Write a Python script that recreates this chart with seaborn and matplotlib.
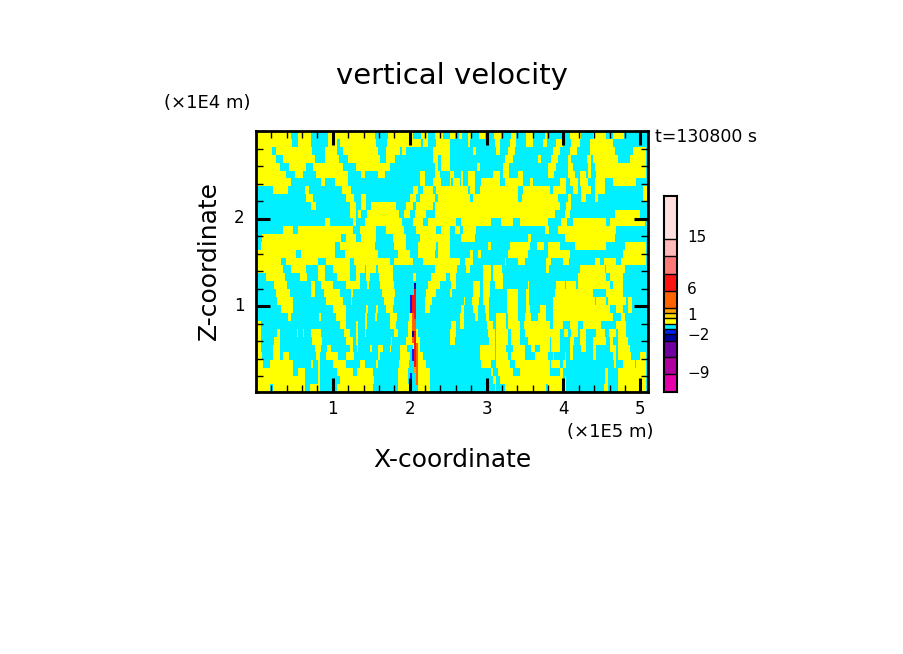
import numpy as np
import matplotlib
matplotlib.use("Agg")
import matplotlib.pyplot as plt
from matplotlib.colors import ListedColormap, BoundaryNorm
import seaborn as sns

W, H = 904, 654

# colour levels (m/s), bottom to top of the colour bar
levels = [-12, -9, -6, -3, -2, -1, 0, 1, 2, 3, 6, 9, 12, 15, 24]
colors = ["#E600AA", "#B000A0", "#7000A0", "#0000A0", "#0020F0", "#00F0FF", "#FFFF00",
          "#FFD800", "#FFA000", "#FF6400", "#FF1414", "#FF7878", "#FFB9B9", "#FFDEDE"]
cbar_heights = [18, 17, 16, 7, 5, 5, 6, 5, 5, 17, 17, 18, 17, 43]  # px of each box, bottom up
cbar_ticks = ["15", "6", "1", "-2", "-9"]

# left half: one unit is 1/3 px, offset 18. right half: same unit, starts at plot px 194
yellow_left = [
    [(18, 125), (145, 185), (235, 375), (415, 490), (515, 535), (555, 580)],
    [(18, 128), (145, 185), (235, 262), (272, 380), (412, 515), (520, 535), (560, 600)],
    [(18, 68), (80, 188), (225, 262), (280, 385), (410, 450), (456, 470), (550, 600)],
    [(18, 80), (100, 195), (225, 268), (295, 390), (408, 435), (550, 565), (575, 600)],
    [(18, 90), (118, 170), (190, 280), (320, 420), (555, 565), (575, 600)],
    [(18, 108), (135, 160), (200, 295), (335, 345), (385, 405), (510, 525), (555, 570)],
    [(18, 125), (215, 225), (255, 295), (510, 525), (550, 575)],
    [(70, 115), (165, 178), (278, 305), (490, 505), (520, 550), (560, 600)],
    [(170, 190), (290, 312), (335, 348), (480, 500), (510, 555), (565, 600)],
    [(185, 198), (300, 318), (335, 348), (365, 440), (470, 490), (500, 550), (555, 600)],
    [(300, 318), (325, 335), (352, 448), (462, 482), (495, 530), (555, 600)],
    [(225, 240), (310, 318), (345, 458), (490, 520), (535, 600)],
    [(100, 130), (145, 310), (330, 378), (410, 462), (498, 560), (575, 600)],
    [(38, 275), (290, 320), (335, 378), (430, 468), (510, 600)],
    [(35, 255), (270, 375), (432, 470), (505, 560), (565, 600)],
    [(18, 140), (155, 255), (285, 385), (445, 480), (505, 555), (565, 600)],
    [(18, 95), (108, 205), (230, 300), (312, 420), (432, 490), (520, 600)],
    [(18, 100), (125, 168), (205, 225), (250, 300), (320, 345), (350, 378), (385, 430), (555, 600)],
    [(50, 105), (150, 172), (205, 225), (262, 300), (318, 330), (348, 362), (388, 430), (490, 500), (545, 590)],
    [(72, 112), (185, 195), (215, 250), (290, 330), (352, 358), (392, 432), (535, 570)],
    [(80, 122), (185, 195), (222, 270), (305, 310), (398, 435), (528, 560)],
    [(82, 130), (230, 280), (305, 308), (402, 432), (525, 548)],
    [(95, 130), (250, 290), (350, 355), (378, 384), (408, 430), (525, 540)],
    [(115, 125), (208, 213), (258, 290), (345, 352), (375, 382), (420, 442), (478, 498)],
    [(18, 35), (272, 290), (320, 324), (347, 352), (422, 440), (474, 500)],
    [(18, 35), (82, 90), (142, 145), (160, 163), (185, 215), (282, 300), (320, 324), (345, 350), (432, 445), (476, 505)],
    [(18, 35), (72, 92), (188, 218), (290, 310), (320, 324), (425, 428), (470, 510)],
    [(18, 35), (70, 90), (195, 215), (232, 245), (300, 310), (322, 326), (362, 366), (385, 400), (420, 424), (450, 472), (490, 512)],
    [(18, 38), (70, 90), (100, 118), (200, 210), (230, 265), (290, 312), (385, 392), (450, 480), (492, 520)],
    [(18, 40), (62, 130), (185, 190), (205, 212), (250, 290), (330, 345), (380, 384), (447, 478), (495, 530)],
    [(18, 130), (145, 165), (205, 212), (262, 310), (322, 370), (445, 475), (500, 540)],
    [(18, 165), (205, 212), (270, 372), (445, 475), (505, 542)],
    [(18, 62), (70, 165), (180, 212), (262, 370), (446, 478), (505, 540)],
]
yellow_right = [
    [(0, 15), (28, 38), (55, 65), (88, 105), (132, 155), (183, 198), (228, 250), (285, 292), (362, 395), (430, 470), (490, 522)],
    [(55, 62), (135, 152), (180, 198), (228, 250), (280, 292), (320, 340), (365, 392), (422, 490)],
    [(70, 78), (140, 150), (175, 195), (310, 332), (362, 382), (420, 495), (550, 590)],
    [(165, 190), (265, 273), (305, 325), (355, 365), (412, 425), (430, 505), (540, 590)],
    [(82, 92), (160, 178), (295, 318), (355, 370), (415, 425), (435, 590)],
    [(0, 12), (35, 40), (55, 75), (130, 150), (160, 178), (205, 220), (295, 312), (355, 375), (392, 410), (415, 425), (440, 590)],
    [(0, 5), (10, 30), (35, 40), (55, 75), (95, 150), (165, 220), (240, 250), (330, 350), (360, 385), (392, 415), (435, 465), (490, 560)],
    [(0, 55), (60, 75), (90, 205), (220, 300), (310, 350), (370, 385), (395, 425), (435, 465), (580, 595)],
    [(0, 60), (70, 205), (218, 325), (355, 365), (395, 410), (435, 445), (580, 595)],
    [(0, 330), (350, 365)],
    [(0, 315), (345, 362), (495, 570)],
    [(0, 20), (35, 125), (155, 190), (210, 295), (335, 352), (370, 470), (480, 585)],
    [(15, 30), (40, 80), (285, 298), (325, 500)],
    [(35, 75), (235, 245), (345, 495)],
    [(115, 125), (180, 240), (262, 282), (295, 330), (375, 470), (525, 590)],
    [(60, 70), (85, 95), (175, 235), (295, 360), (520, 590)],
    [(0, 30), (45, 70), (165, 170), (205, 225), (290, 305), (340, 358), (435, 450), (462, 500), (515, 590)],
    [(0, 22), (50, 60), (100, 125), (130, 158), (290, 298), (390, 465), (470, 525)],
    [(0, 20), (100, 125), (130, 160), (385, 470), (480, 520)],
    [(5, 20), (70, 90), (100, 122), (135, 160), (235, 238), (320, 345), (350, 380), (385, 480), (490, 520)],
    [(0, 8), (70, 90), (100, 120), (172, 205), (230, 238), (315, 430), (470, 520)],
    [(42, 46), (68, 88), (100, 118), (172, 205), (230, 238), (310, 435), (440, 470), (475, 530), (535, 548)],
    [(35, 42), (70, 85), (105, 118), (172, 205), (228, 240), (270, 288), (310, 480), (500, 520), (535, 548)],
    [(32, 42), (75, 85), (110, 118), (140, 170), (175, 205), (225, 245), (265, 290), (310, 490), (515, 525)],
    [(5, 20), (30, 42), (112, 130), (140, 170), (175, 210), (222, 300), (310, 340), (362, 385), (400, 455), (500, 530)],
    [(0, 20), (115, 135), (140, 175), (185, 210), (225, 330), (342, 355), (365, 385), (392, 410), (440, 465), (478, 500), (505, 530)],
    [(0, 15), (118, 135), (140, 175), (185, 210), (235, 300), (305, 332), (360, 372), (392, 410), (430, 470), (480, 490), (505, 535)],
    [(90, 135), (140, 170), (190, 225), (245, 255), (270, 300), (305, 330), (360, 370), (395, 410), (430, 440), (480, 500), (505, 540)],
    [(90, 135), (140, 175), (185, 225), (255, 295), (310, 312), (345, 348), (360, 370), (430, 438), (490, 498), (505, 545), (570, 590)],
    [(95, 125), (140, 180), (195, 300), (305, 330), (340, 350), (492, 500), (520, 555), (560, 590)],
    [(125, 130), (145, 190), (210, 300), (330, 340), (465, 475), (505, 590)],
    [(130, 140), (150, 340), (345, 350), (465, 475), (505, 590)],
    [(135, 138), (165, 290), (295, 340), (345, 350), (462, 475), (505, 590)],
]
# narrow jet core near x = 2.1E5 m, finer than the field above
core = [
    "...D..", "...R..", ".BRR..", ".BRR..", ".BRR..", "..OR..",
    "..OO..", "..OO..", "..DR..", "..OR..", "...RO.", "..BRO.",
    "..BRO.", "...RO.", "...AO.", ".B..O.", "....O.", "......",
]
code_value = {".": -0.5, "B": -1.5, "D": -2.5, "A": 2.5, "O": 4.5, "R": 7.5}

x_major = [1, 2, 3, 4, 5]
y_major = [1, 2]
x_lim = (0.0, 5.1)
y_lim = (0.02, 3.0)

cmap = ListedColormap(colors)
norm = BoundaryNorm(levels, cmap.N)


def px_axes(x0, y0, x1, y1):
    return fig.add_axes([x0 / W, 1 - y1 / H, (x1 - x0) / W, (y1 - y0) / H])


def label(x, y, s, size=12, **kw):
    kw.setdefault("ha", "center")
    kw.setdefault("va", "center")
    fig.text(x / W, 1 - y / H, s, fontsize=size, color="black", **kw)


# one column per plot pixel
field = np.full((len(yellow_left), 392), -0.5)
for r, (lft, rgt) in enumerate(zip(yellow_left, yellow_right)):
    for a, b in lft:
        field[r, (a - 18) // 3:(b - 18) // 3] = 0.5
    for a, b in rgt:
        field[r, 194 + a // 3:194 + b // 3] = 0.5

fig = plt.figure(figsize=(W / 100, H / 100), dpi=100, facecolor="white")

# main field
ax = px_axes(256, 131, 648, 392)
sns.heatmap(field, ax=ax, cmap=cmap, norm=norm, cbar=False, xticklabels=False, yticklabels=False)
nrow, ncol = field.shape
to_x = lambda v: (np.asarray(v) - x_lim[0]) / (x_lim[1] - x_lim[0]) * ncol
to_y = lambda v: (y_lim[1] - np.asarray(v)) / (y_lim[1] - y_lim[0]) * nrow
ax.set_xticks(to_x(x_major))
ax.set_yticks(to_y(y_major))
ax.set_xticks(to_x(np.arange(1, 26) * 0.2), minor=True)
ax.set_yticks(to_y(np.arange(1, 15) * 0.2), minor=True)
ax.set_xticklabels([])
ax.set_yticklabels([])
ax.tick_params(which="major", direction="in", top=True, right=True, bottom=True, left=True, length=10, width=2.2)
ax.tick_params(which="minor", direction="in", top=True, right=True, bottom=True, left=True, length=5, width=1)
for sp in ax.spines.values():
    sp.set_visible(True)
    sp.set_linewidth(2)

# jet core on top
ax_core = px_axes(408, 283, 420, 391)
core_vals = np.array([[code_value[c] for c in r] for r in core])
sns.heatmap(core_vals, ax=ax_core, cmap=cmap, norm=norm, cbar=False, mask=np.array([[c == "." for c in r] for r in core]),
            xticklabels=False, yticklabels=False)
ax_core.patch.set_alpha(0)
ax_core.axis("off")

# colour bar, one heatmap row per pixel
ax_bar = px_axes(664, 196, 677, 392)
idx = np.repeat(np.arange(len(colors)), cbar_heights)[::-1].reshape(-1, 1)
sns.heatmap(idx, ax=ax_bar, cmap=cmap, vmin=-0.5, vmax=len(colors) - 0.5, cbar=False, xticklabels=False, yticklabels=False)
edges = len(idx) - np.cumsum(cbar_heights)[:-1]
ax_bar.hlines(edges, 0, 1, color="black", lw=1)
for sp in ax_bar.spines.values():
    sp.set_visible(True)
    sp.set_linewidth(1.5)

# text
label(452, 76, "vertical velocity", size=21)
label(164, 103, "(×1E4 m)", size=13, ha="left")
label(655, 137, "t=130800 s", size=12.5, ha="left")
label(452, 460, "X-coordinate", size=18)
label(209, 261, "Z-coordinate", size=18, rotation=90)
label(567, 432, "(×1E5 m)", size=13, ha="left")
for v in x_major:
    label(256 + v / x_lim[1] * 392, 409, str(v), size=12)
for v, yp in zip(y_major, [306, 218]):
    label(239, yp, str(v), size=12)
for s, yp in zip(cbar_ticks, [238, 289, 315, 335, 373]):
    label(687, yp, s.replace("-", "\u2212"), size=11, ha="left")

fig.savefig("out.png", dpi=100)
plt.close(fig)
